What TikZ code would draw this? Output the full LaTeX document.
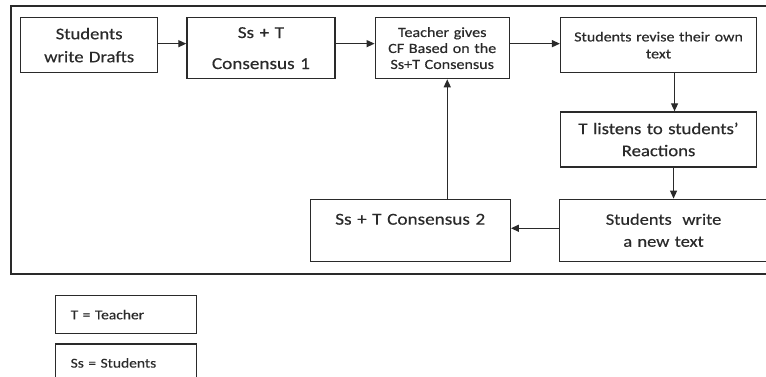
\documentclass[tikz,border=0pt]{standalone}
\usepackage{fontspec}
\setmainfont{Carlito}[FakeStretch=1.15,FakeBold=0.4]
\usetikzlibrary{arrows.meta,positioning}
\newcommand{\boxfont}[2]{\fontsize{#1}{#2}\selectfont}
\definecolor{ink}{HTML}{2A2A2A}
\tikzset{
  basic/.style = {draw=ink, line width=1.3pt, rectangle, inner sep=0pt, text=ink},
  step box/.style = {basic, align=center},
  key box/.style = {basic, align=left, minimum height=38pt, text width=111pt,
  inner xsep=15pt, font=\boxfont{13.5}{16}},
  flow/.style = {draw=ink, line width=1.3pt, -{Triangle[length=8pt,width=7pt]}}
}
\begin{document}
\begin{tikzpicture}[x=1pt,y=-1pt]
\useasboundingbox (0,0) rectangle (766,376);
% frame round the cycle
\draw [ink, line width=1.3pt] (11,6) rectangle (790,274);
% top row of steps
\node [step box, anchor=north west, text width=137pt, minimum height=55pt,
  font=\boxfont{16.2}{23}] (c1) at (20,17) {Students\\ write Drafts};
\node [step box, below right=0pt and 28pt of c1.north east, text width=148pt,
  minimum height=61pt, font=\boxfont{16.7}{31}] (c2) {Ss + T\\ Consensus 1};
\node [step box, below right=0pt and 39pt of c2.north east, text width=134pt,
  minimum height=61pt, font=\boxfont{14}{16}] (c3) {Teacher gives\\ CF Based on the\\ Ss+T Consensus};
\node [step box, below right=0pt and 50pt of c3.north east, text width=196pt,
  minimum height=55pt, font=\boxfont{13.9}{17}] (c4) {Students revise their own\\ text};
% right column going down
\node [step box, below=38pt of c4, text width=196pt, minimum height=55pt,
  font=\boxfont{16.3}{22}] (c5) {T listens to students’\\ Reactions};
\node [step box, below right=31pt and -1pt of c5.south west, text width=208pt,
  minimum height=62pt, font=\boxfont{16}{22}] (c6) {Students\ \ write\\ a new text};
\node [step box, left=48pt of c6, text width=200pt, minimum height=62pt,
  font=\boxfont{16.7}{22}] (c7) {Ss + T Consensus 2\\ \mbox{}};
% key below the frame
\node [key box, anchor=north west] (k1) at (55,295) {T = Teacher};
\node [key box, below=9pt of k1] (k2) {Ss = Students};
% arrows of the cycle
\draw [flow] ([yshift=1.5pt]c1.east) -- ([yshift=1.5pt]c1.east -| c2.west);
\draw [flow] ([yshift=4.5pt]c2.east) -- ([yshift=4.5pt]c2.east -| c3.west);
\draw [flow] ([yshift=4.5pt]c3.east) -- ([yshift=4.5pt]c3.east -| c4.west);
\draw [flow] ([xshift=16pt]c4.south) -- ([xshift=16pt]c4.south |- c5.north);
\draw [flow] ([xshift=15pt]c5.south) -- ([xshift=15pt]c5.south |- c6.north);
\draw [flow] ([yshift=2pt]c6.west) -- ([yshift=2pt]c6.west -| c7.east);
\coordinate (up) at ([xshift=5pt]c3.south);
\draw [flow] (c7.north -| up) -- (up);
\end{tikzpicture}
\end{document}
